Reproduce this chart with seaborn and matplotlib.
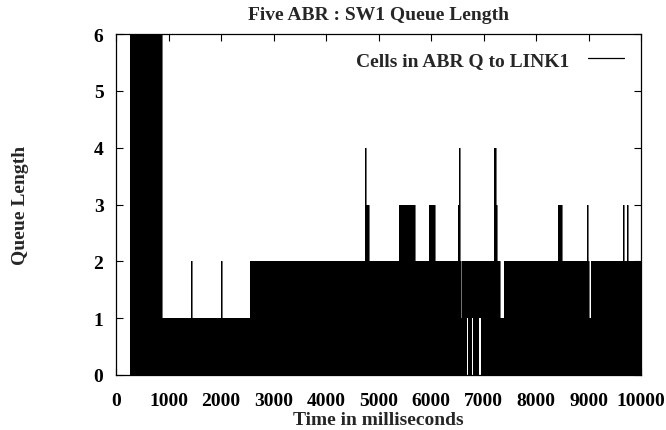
import pandas as pd
import seaborn as sns
import matplotlib.pyplot as plt

# Breakpoints (ms) of the queue envelope; each level holds until the next breakpoint
t_edges = [0, 267, 870, 1430, 1455, 2000, 2025, 2552, 4745, 4770, 4810, 5390,
           5690, 5956, 6070, 6505, 6525, 6545, 6565, 6585, 6683, 6697, 6778,
           6792, 6831, 6845, 6920, 6960, 7205, 7230, 7260, 7314, 7396, 8425,
           8500, 8965, 8990, 9015, 9040, 9650, 9675, 9725, 9750, 10000]
# upper envelope of the (rapidly oscillating) queue length
q_high = [0, 6, 1, 2, 1, 2, 1, 2, 4, 3, 2, 3,
          2, 3, 2, 3, 4, 2, 1, 2, 2, 2, 2,
          2, 2, 2, 2, 2, 4, 3, 2, 1, 2, 3,
          2, 3, 2, 1, 2, 3, 2, 3, 2, 2]
# lower envelope
q_low = [0, 0, 0, 0, 0, 0, 0, 0, 0, 0, 0, 0,
         0, 0, 0, 0, 0, 0, 0, 0, 1, 0, 1,
         0, 1, 0, 1, 0, 0, 0, 0, 0, 0, 0,
         0, 0, 0, 0, 0, 0, 0, 0, 0, 0]

x_ticks = [0, 1000, 2000, 3000, 4000, 5000, 6000, 7000, 8000, 9000, 10000]
y_ticks = [0, 1, 2, 3, 4, 5, 6]

df = pd.DataFrame({'Time': t_edges, 'High': q_high, 'Low': q_low})

sns.set_style('ticks')
plt.rcParams['font.family'] = ['Liberation Serif', 'DejaVu Serif']
plt.rcParams['font.weight'] = 'bold'

fig = plt.figure(figsize=(6.66, 4.31), dpi=100)
ax = fig.add_axes([116 / 666, 55 / 431, 525 / 666, 341 / 431])

# rapid oscillation shows as a solid black band between the envelopes
ax.fill_between(df['Time'], df['Low'], df['High'], step='post',
                color='black', linewidth=0)
sns.lineplot(x='Time', y='High', data=df, color='black', linewidth=0.4,
             drawstyle='steps-post', estimator=None, ax=ax,
             label='Cells in ABR Q to LINK1')

ax.set_xlim(0, 10000)
ax.set_ylim(0, 6)
ax.set_xticks(x_ticks)
ax.set_yticks(y_ticks)
ax.tick_params(direction='in', length=5, width=0.8, top=True, right=True,
               labelsize=14, colors='black')
ax.tick_params(axis='x', pad=12)
ax.tick_params(axis='y', pad=9)
for lab in ax.get_xticklabels() + ax.get_yticklabels():
    lab.set_fontweight('bold')
for s in ax.spines.values():
    s.set_linewidth(0.9)
    s.set_color('black')

ax.set_title('Five ABR : SW1 Queue Length', fontsize=14, fontweight='bold', pad=11)
ax.set_xlabel('Time in milliseconds', fontsize=14, fontweight='bold')
ax.set_ylabel('Queue Length', fontsize=14, fontweight='bold')
ax.xaxis.set_label_coords(0.5, -0.105)
ax.yaxis.set_label_coords(-0.165, 0.5)

leg = ax.legend(loc='upper right', bbox_to_anchor=(1.0, 1.0), frameon=False,
                markerfirst=False, fontsize=14, handlelength=1.85,
                handletextpad=0.93)
for line in leg.get_lines():
    line.set_linewidth(0.9)
for txt in leg.get_texts():
    txt.set_fontweight('bold')

fig.savefig('out.png', dpi=100)
